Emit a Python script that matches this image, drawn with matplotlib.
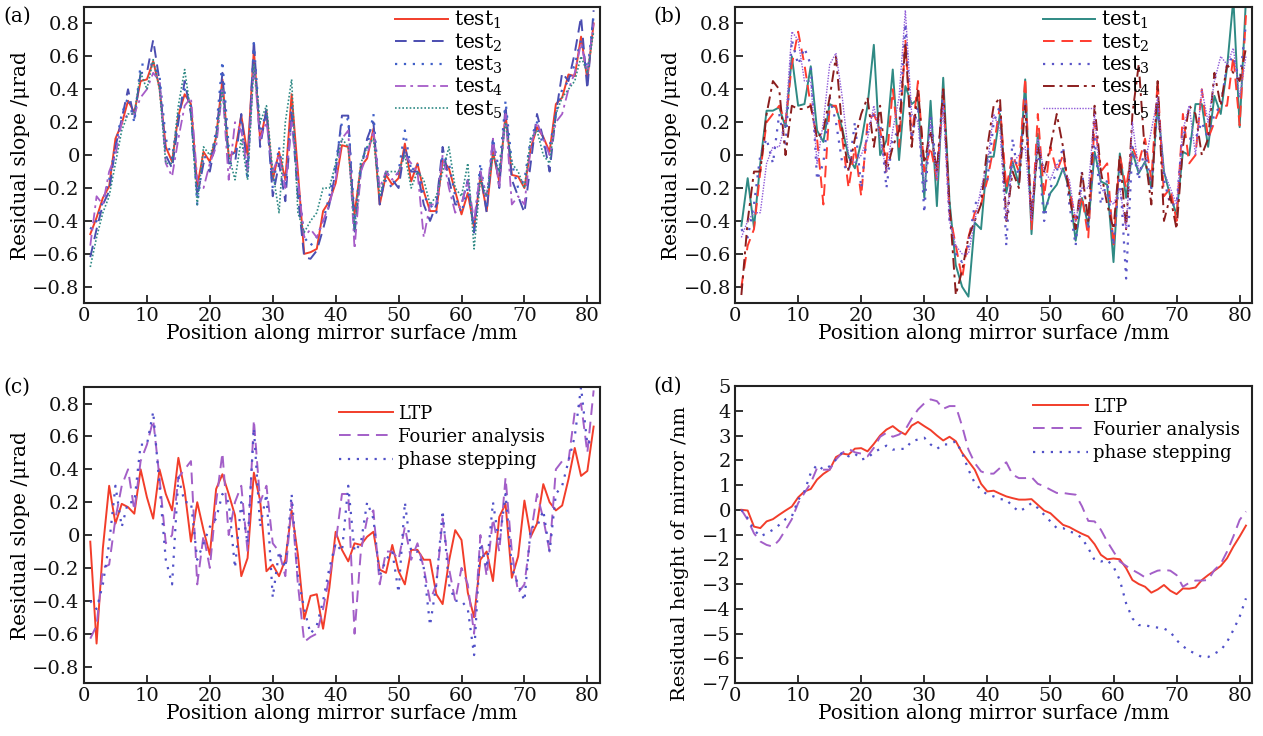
import numpy as np
import matplotlib
matplotlib.use("Agg")
import matplotlib.pyplot as plt

plt.rcParams['font.family'] = ['DejaVu Serif']
plt.rcParams['mathtext.fontset'] = 'dejavuserif'
plt.rcParams['axes.unicode_minus'] = True

# positions along mirror, mm
pos = np.arange(1, 82)

# (a) residual slope, five repeated tests
a_test1 = [-0.48, -0.38, -0.26, -0.19, 0.10, 0.19, 0.33, 0.26, 0.45, 0.46,
           0.57, 0.41, 0.05, -0.04, 0.24, 0.37, 0.31, -0.19, 0.02, -0.04,
           0.11, 0.46, -0.01, 0.02, 0.24, 0.00, 0.64, 0.09, 0.27, -0.15,
           0.02, -0.15, 0.37, -0.10, -0.60, -0.59, -0.57, -0.34, -0.28, -0.17,
           0.06, 0.05, -0.36, -0.07, -0.02, 0.16, -0.30, -0.12, -0.18, -0.14,
           0.07, -0.16, -0.05, -0.22, -0.34, -0.34, -0.03, -0.08, -0.22, -0.36,
           -0.23, -0.44, -0.13, -0.34, 0.02, -0.16, 0.25, -0.12, -0.13, -0.20,
           0.04, 0.17, 0.11, 0.02, 0.31, 0.35, 0.49, 0.48, 0.72, 0.46, 0.80]
a_test2 = [-0.62, -0.45, -0.30, -0.22, 0.05, 0.22, 0.40, 0.22, 0.50, 0.50,
           0.70, 0.45, 0.00, -0.08, 0.20, 0.45, 0.25, -0.25, -0.05, -0.10,
           0.10, 0.50, -0.05, -0.05, 0.25, -0.10, 0.70, 0.05, 0.28, -0.25,
           -0.05, -0.28, 0.25, -0.25, -0.62, -0.63, -0.58, -0.45, -0.30, -0.10,
           0.24, 0.24, -0.48, -0.10, 0.10, 0.20, -0.30, -0.10, -0.15, -0.20,
           0.05, -0.10, -0.10, -0.30, -0.40, -0.30, 0.05, -0.15, -0.30, -0.30,
           -0.15, -0.47, -0.10, -0.35, 0.10, -0.20, 0.30, -0.15, -0.25, -0.35,
           -0.05, 0.25, 0.10, -0.10, 0.25, 0.50, 0.45, 0.62, 0.84, 0.40, 0.88]
a_test3 = [-0.45, -0.40, -0.28, -0.15, 0.05, 0.25, 0.35, 0.20, 0.55, 0.55,
           0.55, 0.48, 0.10, -0.02, 0.25, 0.40, 0.30, -0.30, 0.00, -0.05,
           0.15, 0.57, 0.05, 0.00, 0.20, -0.15, 0.68, 0.15, 0.25, -0.20,
           0.05, -0.20, 0.30, -0.15, -0.50, -0.55, -0.50, -0.40, -0.25, -0.05,
           0.20, 0.22, -0.40, -0.05, 0.05, 0.25, -0.25, -0.15, -0.20, -0.10,
           0.15, -0.10, -0.05, -0.25, -0.30, -0.35, 0.00, -0.05, -0.25, -0.35,
           -0.20, -0.45, -0.05, -0.30, 0.10, -0.10, 0.33, -0.05, -0.20, -0.15,
           0.10, 0.20, 0.05, 0.05, 0.25, 0.40, 0.45, 0.55, 0.70, 0.50, 0.85]
a_test4 = [-0.55, -0.25, -0.30, -0.10, 0.00, 0.20, 0.25, 0.25, 0.35, 0.40,
           0.50, 0.45, -0.05, -0.13, 0.10, 0.30, 0.35, -0.15, -0.20, -0.05,
           0.05, 0.40, -0.15, 0.20, 0.15, -0.10, 0.55, 0.10, 0.20, -0.10,
           0.00, -0.20, 0.20, -0.15, -0.50, -0.45, -0.50, -0.40, -0.30, -0.15,
           0.10, 0.15, -0.57, -0.10, 0.00, 0.15, -0.20, -0.10, -0.15, -0.10,
           0.00, -0.05, -0.10, -0.50, -0.30, -0.30, 0.00, -0.20, -0.35, -0.30,
           -0.15, -0.40, -0.10, -0.25, 0.10, -0.20, 0.25, -0.30, -0.25, -0.30,
           0.05, 0.20, 0.10, 0.00, 0.20, 0.25, 0.40, 0.50, 0.68, 0.50, 0.80]
a_test5 = [-0.68, -0.50, -0.35, -0.25, -0.05, 0.15, 0.25, 0.25, 0.50, 0.40,
           0.58, 0.40, -0.05, -0.05, 0.30, 0.52, 0.25, -0.30, 0.05, 0.00,
           0.10, 0.40, 0.00, -0.15, 0.10, -0.15, 0.55, 0.20, 0.30, -0.10,
           -0.35, 0.20, 0.46, -0.35, -0.47, -0.40, -0.35, -0.20, -0.20, -0.05,
           0.10, 0.05, -0.45, -0.05, 0.05, 0.10, -0.25, -0.10, -0.10, -0.10,
           0.00, -0.20, -0.10, -0.15, -0.30, -0.25, -0.10, 0.05, -0.20, -0.25,
           -0.05, -0.57, -0.15, -0.25, 0.00, -0.10, 0.20, -0.05, -0.10, -0.20,
           0.10, 0.15, 0.00, -0.05, 0.25, 0.35, 0.40, 0.45, 0.60, 0.50, 0.75]

# (b) residual slope, second set of tests
b_test1 = [-0.43, -0.14, -0.44, -0.05, 0.27, 0.27, 0.29, 0.17, 0.60, 0.30,
           0.31, 0.54, 0.15, 0.08, 0.31, 0.29, 0.16, -0.01, -0.08, 0.08,
           0.30, 0.67, 0.00, 0.09, 0.52, -0.03, 0.42, 0.31, 0.34, -0.26,
           0.33, -0.31, 0.47, -0.28, -0.67, -0.80, -0.86, -0.41, -0.45, -0.01,
           -0.01, 0.25, -0.23, -0.04, -0.18, 0.46, -0.48, 0.13, -0.35, -0.23,
           -0.18, -0.08, -0.21, -0.52, -0.26, -0.43, 0.02, -0.16, -0.18, -0.65,
           0.01, -0.26, 0.02, -0.11, -0.04, -0.20, 0.31, -0.10, -0.25, -0.36,
           0.02, 0.00, 0.31, 0.31, 0.05, 0.36, 0.25, 0.53, 0.95, 0.17, 0.95]
b_test2 = [-0.80, -0.55, -0.45, -0.10, 0.20, 0.25, 0.30, 0.20, 0.55, 0.75,
           0.55, 0.30, 0.10, -0.30, 0.30, 0.30, 0.10, -0.20, 0.05, -0.25,
           0.20, 0.25, 0.15, -0.05, 0.40, 0.05, 0.70, 0.10, 0.45, -0.10,
           0.05, -0.15, 0.40, -0.35, -0.55, -0.75, -0.50, -0.35, -0.30, -0.15,
           0.05, 0.30, -0.20, 0.00, -0.10, 0.47, -0.45, 0.25, -0.25, 0.05,
           -0.10, 0.00, -0.20, -0.40, -0.25, -0.50, 0.20, -0.10, -0.05, -0.55,
           0.00, -0.20, 0.05, -0.05, 0.10, -0.15, 0.45, -0.25, -0.20, -0.40,
           0.25, -0.05, 0.00, 0.40, 0.10, 0.20, 0.30, 0.30, 0.60, 0.18, 0.85]
b_test3 = [-0.45, -0.50, -0.30, 0.00, 0.10, -0.05, 0.25, 0.05, 0.70, 0.55,
           0.65, 0.55, -0.15, -0.05, 0.35, 0.20, -0.05, -0.10, 0.20, -0.20,
           0.15, 0.25, 0.20, -0.20, 0.10, 0.15, 0.80, 0.10, 0.30, -0.35,
           0.25, -0.10, 0.40, -0.40, -0.60, -0.65, -0.55, -0.30, -0.25, -0.15,
           0.20, 0.30, -0.55, 0.10, -0.15, 0.35, -0.35, 0.05, -0.40, -0.20,
           -0.10, 0.05, -0.30, -0.55, -0.10, -0.45, 0.10, -0.30, -0.15, -0.55,
           -0.10, -0.75, 0.05, -0.15, 0.05, -0.20, 0.30, -0.15, -0.30, -0.30,
           0.15, 0.10, 0.10, 0.20, 0.10, 0.25, 0.30, 0.55, 0.60, 0.45, 0.80]
b_test4 = [-0.85, -0.40, -0.10, -0.10, 0.25, 0.45, 0.40, 0.00, 0.30, 0.28,
           0.28, 0.30, 0.10, 0.15, 0.35, 0.60, 0.15, -0.10, 0.10, 0.25,
           0.35, 0.05, 0.30, -0.10, 0.05, 0.15, 0.68, 0.05, 0.40, -0.05,
           0.15, -0.10, 0.40, -0.30, -0.85, -0.70, -0.50, -0.40, -0.30, 0.05,
           0.30, 0.35, -0.40, -0.10, -0.20, 0.30, -0.40, 0.05, -0.10, 0.05,
           0.25, 0.05, -0.25, -0.45, -0.10, -0.40, 0.30, -0.10, -0.30, -0.45,
           0.00, -0.45, 0.25, 0.55, 0.00, -0.30, 0.45, -0.40, -0.25, -0.45,
           0.05, 0.30, 0.25, 0.00, 0.10, 0.50, 0.30, 0.55, 0.50, 0.45, 0.65]
b_test5 = [-0.50, -0.40, -0.35, -0.35, -0.05, 0.05, 0.05, 0.20, 0.75, 0.70,
           0.45, 0.45, -0.05, 0.20, 0.55, 0.62, 0.35, 0.00, -0.05, 0.00,
           0.10, 0.30, 0.10, -0.10, 0.15, 0.35, 0.88, 0.25, 0.20, -0.20,
           0.20, -0.15, 0.30, -0.40, -0.55, -0.60, -0.60, -0.40, -0.20, -0.05,
           0.25, 0.15, -0.40, -0.05, 0.00, 0.05, -0.40, 0.10, -0.10, -0.15,
           -0.05, -0.10, -0.15, -0.40, -0.20, -0.20, 0.25, -0.20, -0.25, -0.30,
           -0.20, -0.45, 0.20, -0.10, -0.05, 0.15, 0.35, -0.10, -0.20, -0.30,
           0.15, 0.30, 0.00, 0.40, 0.20, 0.45, 0.60, 0.55, 0.65, 0.35, 0.60]

# (c) residual slope by method
c_ltp = [-0.04, -0.66, -0.08, 0.30, 0.07, 0.19, 0.17, 0.13, 0.40, 0.23,
         0.10, 0.40, 0.25, 0.15, 0.47, 0.27, -0.04, 0.20, 0.03, -0.12,
         0.28, 0.37, 0.25, 0.12, -0.25, -0.14, 0.38, 0.21, -0.22, -0.18,
         -0.25, -0.15, 0.15, -0.12, -0.51, -0.37, -0.36, -0.57, -0.32, 0.02,
         -0.09, -0.16, -0.05, -0.06, -0.01, 0.02, -0.21, -0.23, -0.06, -0.22,
         -0.30, -0.09, -0.09, -0.15, -0.15, -0.36, -0.42, -0.16, 0.03, -0.03,
         -0.35, -0.50, -0.15, -0.10, -0.28, 0.11, 0.19, -0.26, -0.13, 0.21,
         -0.01, 0.07, 0.31, 0.20, 0.15, 0.18, 0.34, 0.53, 0.36, 0.39, 0.66]
c_fourier = [-0.63, -0.55, -0.20, -0.18, 0.10, 0.30, 0.40, 0.15, 0.45, 0.55,
             0.70, 0.35, -0.05, 0.00, 0.35, 0.40, 0.45, -0.30, 0.00, -0.20,
             0.20, 0.50, 0.00, 0.20, 0.30, -0.10, 0.70, 0.20, 0.30, -0.05,
             -0.10, -0.25, 0.20, -0.30, -0.65, -0.62, -0.60, -0.45, -0.25, -0.05,
             0.25, 0.25, -0.60, -0.10, 0.10, 0.15, -0.30, -0.10, -0.10, -0.15,
             0.05, -0.15, -0.05, -0.20, -0.40, -0.30, 0.10, -0.20, -0.40, -0.20,
             -0.30, -0.60, 0.00, -0.25, 0.10, -0.10, 0.35, -0.10, -0.35, -0.30,
             0.00, 0.25, 0.10, -0.10, 0.40, 0.45, 0.45, 0.75, 0.80, 0.50, 0.88]
c_phase = [-0.40, -0.45, -0.30, -0.05, 0.30, 0.05, 0.20, 0.20, 0.55, 0.55,
           0.75, 0.30, -0.15, -0.30, 0.35, 0.20, 0.20, -0.15, -0.05, 0.05,
           0.10, 0.25, 0.20, -0.20, 0.20, -0.05, 0.65, 0.05, 0.25, -0.38,
           -0.10, -0.20, 0.25, -0.25, -0.45, -0.60, -0.55, -0.40, -0.20, -0.05,
           -0.10, 0.30, -0.10, -0.05, 0.20, 0.10, -0.25, -0.15, -0.10, -0.35,
           0.20, -0.10, -0.10, -0.20, -0.55, -0.30, 0.15, -0.30, -0.40, -0.40,
           -0.45, -0.73, -0.05, -0.20, 0.20, -0.05, 0.25, -0.20, -0.30, -0.40,
           0.05, 0.05, 0.15, -0.10, 0.25, 0.30, 0.45, 0.60, 0.90, 0.55, 0.60]

# (d) residual height by method, nm
d_ltp = [0.0, -0.03, -0.68, -0.74, -0.47, -0.38, -0.2, -0.03, 0.13, 0.5,
         0.74, 0.84, 1.22, 1.45, 1.62, 2.13, 2.27, 2.23, 2.47, 2.49,
         2.36, 2.66, 3.0, 3.24, 3.38, 3.18, 3.04, 3.4, 3.55, 3.38,
         3.22, 3.0, 2.8, 2.95, 2.77, 2.30, 1.96, 1.62, 1.05, 0.74,
         0.77, 0.65, 0.54, 0.47, 0.41, 0.41, 0.43, 0.2, -0.03, -0.14,
         -0.38, -0.61, -0.70, -0.84, -0.97, -1.08, -1.39, -1.82, -2.0, -1.97,
         -2.0, -2.36, -2.84, -3.0, -3.11, -3.35, -3.22, -3.04, -3.27, -3.41,
         -3.18, -3.19, -3.14, -2.84, -2.64, -2.46, -2.27, -1.96, -1.49, -1.08, -0.64]
d_fourier = [0, -0.4, -0.95, -1.28, -1.42, -1.49, -1.22, -0.81, -0.38, 0.27,
             0.68, 1.08, 1.69, 1.62, 1.62, 2.03, 2.30, 2.46, 2.32, 2.27,
             2.16, 2.5, 2.95, 3.11, 2.95, 3.04, 3.24, 3.68, 4.05, 4.3,
             4.46, 4.39, 4.08, 4.19, 4.19, 3.38, 2.43, 1.89, 1.55, 1.46,
             1.46, 1.69, 1.92, 1.42, 1.28, 1.28, 1.32, 1.05, 0.95, 0.81,
             0.68, 0.68, 0.64, 0.61, 0.14, -0.45, -0.47, -0.81, -1.28, -1.69,
             -2.09, -2.27, -2.43, -2.57, -2.73, -2.57, -2.46, -2.43, -2.46, -2.64,
             -3.11, -2.95, -2.86, -2.86, -2.84, -2.43, -2.19, -1.69, -1.08, -0.41, -0.07]
d_phase = [0, -0.34, -0.81, -1.08, -0.95, -0.81, -0.61, -0.38, -0.27, 0.4,
           0.74, 1.49, 1.82, 1.62, 1.76, 2.03, 2.32, 2.16, 2.27, 2.03,
           2.09, 2.32, 2.46, 2.59, 2.43, 2.46, 2.46, 2.77, 2.84, 2.91,
           2.64, 2.46, 2.64, 2.64, 2.77, 2.30, 1.62, 1.08, 0.81, 0.61,
           0.54, 0.43, 0.41, 0.14, -0.07, 0.07, 0.27, 0.07, -0.2, -0.47,
           -0.74, -0.74, -0.88, -0.95, -1.15, -1.55, -2.03, -2.09, -2.03, -2.30,
           -2.84, -3.78, -4.39, -4.66, -4.66, -4.73, -4.76, -4.80, -4.93, -5.27,
           -5.51, -5.70, -5.81, -5.95, -5.95, -5.81, -5.68, -5.34, -4.86, -4.32, -3.58]

test_labels = ['test$_1$', 'test$_2$', 'test$_3$', 'test$_4$', 'test$_5$']
method_labels = ['LTP', 'Fourier analysis', 'phase stepping']

FS = 14.5     # axis labels
TFS = 14      # tick labels
LFS = 13      # method legend
fig = plt.figure(figsize=(12.63, 7.36), dpi=100)


def make_axes(rect, ylim, yticks, ylabel, tag, tag_y=1.0, yl_fs=FS):
    ax = fig.add_axes(rect)
    ax.set_xlim(0, 82)
    ax.set_ylim(*ylim)
    ax.set_xticks(range(0, 81, 10))
    ax.set_yticks(yticks)
    ax.tick_params(direction='in', length=6, width=1.2, labelsize=TFS,
                   colors='#111111', pad=3)
    for s in ax.spines.values():
        s.set_linewidth(1.5)
        s.set_color('#222222')
    ax.set_xlabel('Position along mirror surface /mm', fontsize=FS, labelpad=-1)
    ax.set_ylabel(ylabel, fontsize=yl_fs, labelpad=2)
    ax.text(-0.157, tag_y, tag, transform=ax.transAxes, fontsize=FS,
            va='top', ha='left')
    return ax


slope_ticks = [-0.8, -0.6, -0.4, -0.2, 0, 0.2, 0.4, 0.6, 0.8]
slope_fmt = lambda v: '0' if v == 0 else f'{v:.1f}'.replace('-', '\u2212')
leg_kw = dict(loc='upper left', frameon=False, handletextpad=0.3, borderaxespad=0)

# (a)
ax = make_axes([0.0665, 0.588, 0.4085, 0.4025], (-0.9, 0.9), slope_ticks,
               'Residual slope /\u03bcrad', '(a)')
ax.set_yticklabels([slope_fmt(v) for v in slope_ticks])
ax.plot(pos, a_test1, color='#f23d2a', lw=1.4, ls='-', label=test_labels[0])
ax.plot(pos, a_test2, color='#4b4db0', lw=1.4, ls=(0, (6, 3.5)), label=test_labels[1])
ax.plot(pos, a_test3, color='#3f5fc8', lw=1.6, ls=(0, (1, 3)), label=test_labels[2])
ax.plot(pos, a_test4, color='#a65cc8', lw=1.3, ls=(0, (6, 2.5, 1.5, 2.5)), label=test_labels[3])
ax.plot(pos, a_test5, color='#2f8a85', lw=1.2, ls=(0, (1, 1.2)), label=test_labels[4])
ax.legend(bbox_to_anchor=(0.588, 1.02), fontsize=FS, handlelength=2.6,
          labelspacing=0.0, **leg_kw)

# (b)
ax = make_axes([0.582, 0.588, 0.4095, 0.4025], (-0.9, 0.9), slope_ticks,
               'Residual slope /\u03bcrad', '(b)')
ax.set_yticklabels([slope_fmt(v) for v in slope_ticks])
ax.plot(pos, b_test1, color='#2f8a84', lw=1.4, ls='-', label=test_labels[0])
ax.plot(pos, b_test2, color='#ff3b2f', lw=1.4, ls=(0, (6, 3.5)), label=test_labels[1])
ax.plot(pos, b_test3, color='#5a55c8', lw=1.6, ls=(0, (1, 3)), label=test_labels[2])
ax.plot(pos, b_test4, color='#8b1e1e', lw=1.4, ls=(0, (6, 2.5, 1.5, 2.5)), label=test_labels[3])
ax.plot(pos, b_test5, color='#8f5ad8', lw=1.0, ls=(0, (1, 1)), label=test_labels[4])
ax.legend(bbox_to_anchor=(0.58, 1.02), fontsize=FS, handlelength=2.6,
          labelspacing=0.0, **leg_kw)

# (c)
ax = make_axes([0.0665, 0.072, 0.4085, 0.402], (-0.9, 0.9), slope_ticks,
               'Residual slope /\u03bcrad', '(c)', tag_y=1.03)
ax.set_yticklabels([slope_fmt(v) for v in slope_ticks])
ax.plot(pos, c_ltp, color='#f23d2a', lw=1.4, ls='-', label=method_labels[0])
ax.plot(pos, c_fourier, color='#a35fc8', lw=1.4, ls=(0, (6, 3.5)), label=method_labels[1])
ax.plot(pos, c_phase, color='#5050c8', lw=1.6, ls=(0, (1, 3)), label=method_labels[2])
ax.legend(bbox_to_anchor=(0.48, 0.965), fontsize=LFS, handlelength=3.0,
          labelspacing=0.28, **leg_kw)

# (d)
ax = make_axes([0.582, 0.072, 0.4095, 0.4035], (-7, 5), list(range(-7, 6)),
               'Residual height of mirror /nm', '(d)', tag_y=1.03, yl_fs=14)
ax.set_yticklabels([str(v).replace('-', '\u2212') for v in range(-7, 6)])
ax.yaxis.set_label_coords(-0.09, 0.435)
ax.plot(pos, d_ltp, color='#f23d2a', lw=1.4, ls='-', label=method_labels[0])
ax.plot(pos, d_fourier, color='#a35fc8', lw=1.4, ls=(0, (6, 3.5)), label=method_labels[1])
ax.plot(pos, d_phase, color='#5050c8', lw=1.6, ls=(0, (1, 3)), label=method_labels[2])
ax.legend(bbox_to_anchor=(0.563, 0.985), fontsize=LFS, handlelength=3.0,
          labelspacing=0.28, **leg_kw)

fig.savefig('out.png', dpi=100)
